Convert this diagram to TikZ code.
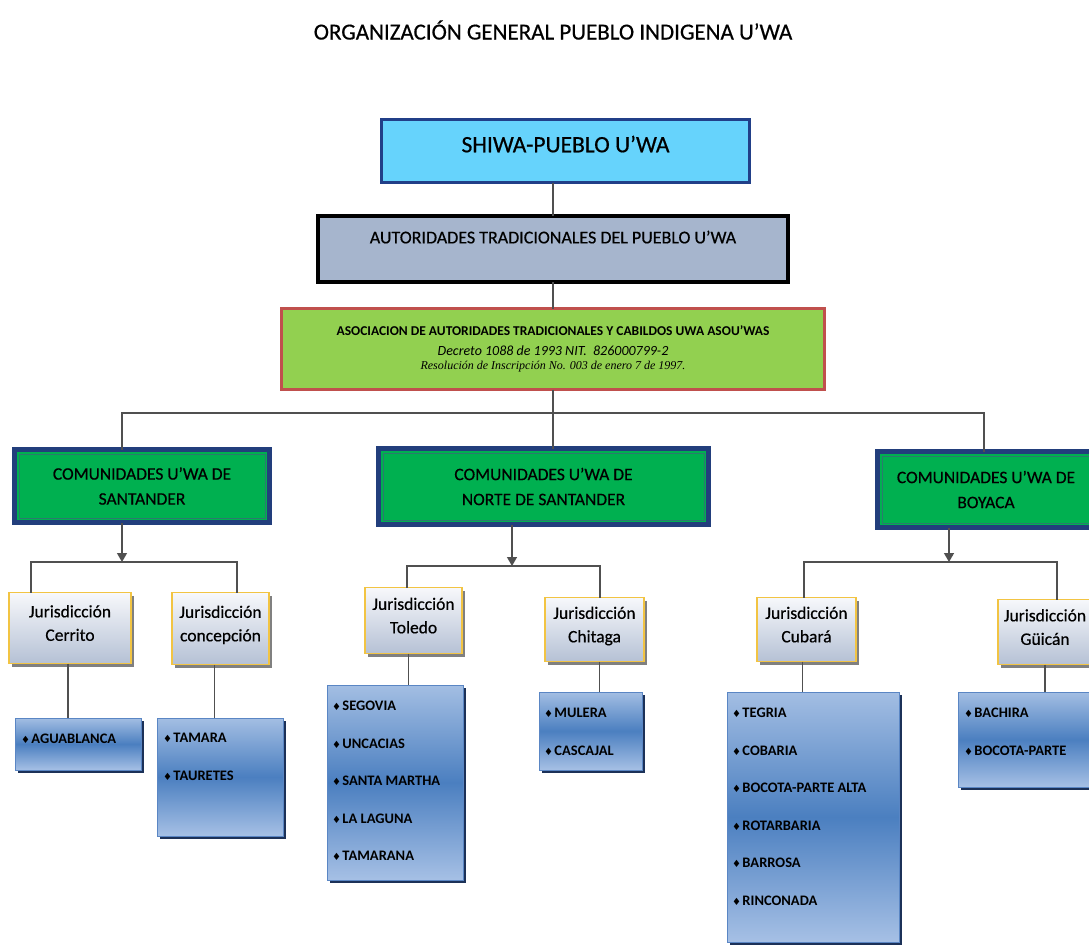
\documentclass[tikz,border=0pt]{standalone}
\usepackage{fontspec}
\setmainfont{Carlito}
\newfontfamily\medf{Carlito}[BoldFont=Carlito,BoldFeatures={FakeBold=0.5}]
\newfontfamily\timesf{Liberation Serif}
\newfontfamily\symf{DejaVu Sans}
\usetikzlibrary{arrows.meta,shadows}
\definecolor{shiwafill}{HTML}{66D3FC}
\definecolor{shiwaline}{HTML}{213F88}
\definecolor{autfill}{HTML}{A6B5CD}
\definecolor{asocfill}{HTML}{92D050}
\definecolor{asocline}{HTML}{C0504D}
\definecolor{comfill}{HTML}{00B050}
\definecolor{comline}{HTML}{223E7C}
\definecolor{cominner}{HTML}{2B7A6E}
\definecolor{jurtop}{HTML}{F7F8FB}
\definecolor{jurbot}{HTML}{B5C1D5}
\definecolor{jurline}{HTML}{F2C443}
\definecolor{itemtop}{HTML}{A3BEE3}
\definecolor{itemmid}{HTML}{4B7FC0}
\definecolor{itembot}{HTML}{A6C0E5}
\definecolor{itemline}{HTML}{5A86C4}
\definecolor{itemshadow}{HTML}{1C3158}
\definecolor{connc}{HTML}{505050}
\newcommand{\bul}{{\symf\fontsize{10}{10}\selectfont ♦}\hspace{1.5pt}}
\begin{document}
\begin{tikzpicture}[x=1pt,y=-1pt,
  box/.style={inner sep=0pt,outer sep=0pt,align=center},
  shiwabox/.style={box,fill=shiwafill,draw=shiwaline,line width=3pt,font=\fontsize{23.5}{28}\selectfont\medf\bfseries},
  autbox/.style={box,fill=autfill,draw=black,line width=4pt,font=\fontsize{18}{22}\selectfont\medf\bfseries},
  asocbox/.style={box,fill=asocfill,draw=asocline,line width=3pt},
  combox/.style={box,fill=comfill,draw=comline,line width=5pt,font=\fontsize{17.5}{25}\selectfont\medf\bfseries},
  jurbox/.style={box,draw=jurline,line width=1.5pt,top color=jurtop,bottom color=jurbot,
     drop shadow={shadow xshift=3pt,shadow yshift=-3pt,fill=gray,opacity=1},
     font=\fontsize{17.5}{23.5}\selectfont\medf\bfseries},
  itembox/.style={box,draw=itemline,line width=0.8pt,top color=itemtop,bottom color=itembot,middle color=itemmid,
     drop shadow={shadow xshift=3pt,shadow yshift=-3pt,fill=itemshadow,opacity=1}},
  itemtext/.style={inner sep=0pt,outer sep=0pt,anchor=north west,align=left,font=\fontsize{14.5}{37.6}\selectfont\bfseries},
  conn/.style={draw=connc,line width=1.3pt},
  arr/.style={conn,-{Triangle[length=9pt,width=10pt]}}
]
\useasboundingbox (0,0) rectangle (1089,946);
\fill[white] (0,0) rectangle (1089,946);

\node[inner sep=0pt,font=\fontsize{23}{27}\selectfont\medf\bfseries] (title) at (553,30) {ORGANIZACIÓN GENERAL PUEBLO INDIGENA U’WA};

\node[shiwabox,minimum width=368,minimum height=63,text depth=14pt] (shiwa) at (565.5,151) {SHIWA-PUEBLO U’WA};
\node[autbox,minimum width=470,minimum height=66,text depth=24pt] (aut) at (553,249) {AUTORIDADES TRADICIONALES DEL PUEBLO U’WA};
\node[asocbox,minimum width=543,minimum height=81] (asoc) at (553,349)
 {{\fontsize{13.5}{15}\selectfont\bfseries ASOCIACION DE AUTORIDADES TRADICIONALES Y CABILDOS UWA ASOU’WAS}\\[8pt]
  {\fontsize{14}{15}\selectfont\itshape Decreto 1088 de 1993 NIT.\ \ 826000799-2}\\[2pt]
  {\timesf\fontsize{12}{13}\selectfont\itshape Resolución de Inscripción No. 003 de enero 7 de 1997.}};

\node[combox,minimum width=255,minimum height=73] (sant) at (142,486) {COMUNIDADES U’WA DE\\SANTANDER};
\node[combox,minimum width=330,minimum height=76] (norte) at (543.5,486.5) {COMUNIDADES U’WA DE\\NORTE DE SANTANDER};
\node[combox,minimum width=217,minimum height=76] (boy) at (986,489.5) {COMUNIDADES U’WA DE\\BOYACA};
\foreach \n in {sant,norte,boy}{
  \draw[cominner,line width=0.9pt] ([shift={(4.5,4.5)}]\n.north west) rectangle ([shift={(-4.5,-4.5)}]\n.south east);
}

\node[jurbox,minimum width=122,minimum height=71,text depth=10pt] (cerr) at (70,628) {Jurisdicción\\Cerrito};
\node[jurbox,minimum width=97,minimum height=72,text depth=10pt] (conc) at (220.5,628.5) {Jurisdicción\\concepción};
\node[jurbox,minimum width=97,minimum height=66,text depth=10pt] (tole) at (413.5,620.5) {Jurisdicción\\Toledo};
\node[jurbox,minimum width=99,minimum height=64,text depth=10pt] (chit) at (594.5,629.5) {Jurisdicción\\Chitaga};
\node[jurbox,minimum width=99,minimum height=64,text depth=10pt] (cuba) at (806.5,629.5) {Jurisdicción\\Cubará};
\node[jurbox,minimum width=94,minimum height=65,text depth=10pt] (guic) at (1045,632) {Jurisdicción\\Güicán};

\node[itembox,minimum width=126,minimum height=52,anchor=north west] (agua) at (15,718) {};
\node[itembox,minimum width=126,minimum height=118,anchor=north west] (tama) at (157,718) {};
\node[itembox,minimum width=136,minimum height=195,anchor=north west] (toll) at (327,685) {};
\node[itembox,minimum width=103,minimum height=78,anchor=north west] (chil) at (539,692) {};
\node[itembox,minimum width=172,minimum height=250,anchor=north west] (cubl) at (727,692) {};
\node[itembox,minimum width=142,minimum height=95,anchor=north west] (guil) at (958,692) {};

\node[itemtext] (aguat) at ([shift={(6,16)}]agua.north west) {\bul AGUABLANCA};
\node[itemtext] (tamat) at ([shift={(6,15)}]tama.north west) {\bul TAMARA\\\bul TAURETES};
\node[itemtext] (tollt) at ([shift={(5,16)}]toll.north west) {\bul SEGOVIA\\\bul UNCACIAS\\\bul SANTA MARTHA\\\bul LA LAGUNA\\\bul TAMARANA};
\node[itemtext] (chilt) at ([shift={(5,16)}]chil.north west) {\bul MULERA\\\bul CASCAJAL};
\node[itemtext] (cublt) at ([shift={(5,16)}]cubl.north west) {\bul TEGRIA\\\bul COBARIA\\\bul BOCOTA-PARTE ALTA\\\bul ROTARBARIA\\\bul BARROSA\\\bul RINCONADA};
\node[itemtext] (guilt) at ([shift={(6,16)}]guil.north west) {\bul BACHIRA\\\bul BOCOTA-PARTE};

% spine
\coordinate (spine) at (553,0);
\draw[conn] (shiwa.south -| spine) -- (aut.north);
\draw[conn] (aut.south) -- (asoc.north);
\coordinate (busL) at (122,413);
\coordinate (busR) at (984,413);
\coordinate (busM) at (553,413);
\draw[conn] (asoc.south) -- (busM);
\draw[conn] (sant.north -| busL) -- (busL) -- (busR) -- (boy.north -| busR);
\draw[conn] (busM) -- (norte.north -| busM);

% Santander
\coordinate (sA) at (122,562);
\coordinate (sL) at (31,562);
\coordinate (sR) at (237,562);
\draw[arr] (sant.south -| sA) -- (sA);
\draw[conn] (cerr.north -| sL) -- (sL) -- (sR) -- (conc.north -| sR);
% Norte
\coordinate (nA) at (512,566);
\coordinate (nL) at (407,566);
\coordinate (nR) at (600,566);
\draw[arr] (norte.south -| nA) -- (nA);
\draw[conn] (tole.north -| nL) -- (nL) -- (nR) -- (chit.north -| nR);
% Boyaca
\coordinate (bA) at (949,562);
\coordinate (bL) at (804,562);
\coordinate (bR) at (1057,562);
\draw[arr] (boy.south -| bA) -- (bA);
\draw[conn] (cuba.north -| bL) -- (bL) -- (bR) -- (guic.north -| bR);

% jurisdiction to lists
\draw[conn] ([xshift=-2pt]cerr.south) -- ([xshift=-2pt]cerr.south |- agua.north);
\draw[conn] ([xshift=-6pt]conc.south) -- ([xshift=-6pt]conc.south |- tama.north);
\draw[conn] ([xshift=-5pt]tole.south) -- ([xshift=-5pt]tole.south |- toll.north);
\draw[conn] ([xshift=5pt]chit.south) -- ([xshift=5pt]chit.south |- chil.north);
\draw[conn] ([xshift=-4pt]cuba.south) -- ([xshift=-4pt]cuba.south |- cubl.north);
\draw[conn] (guic.south) -- (guic.south |- guil.north);
\end{tikzpicture}
\end{document}
